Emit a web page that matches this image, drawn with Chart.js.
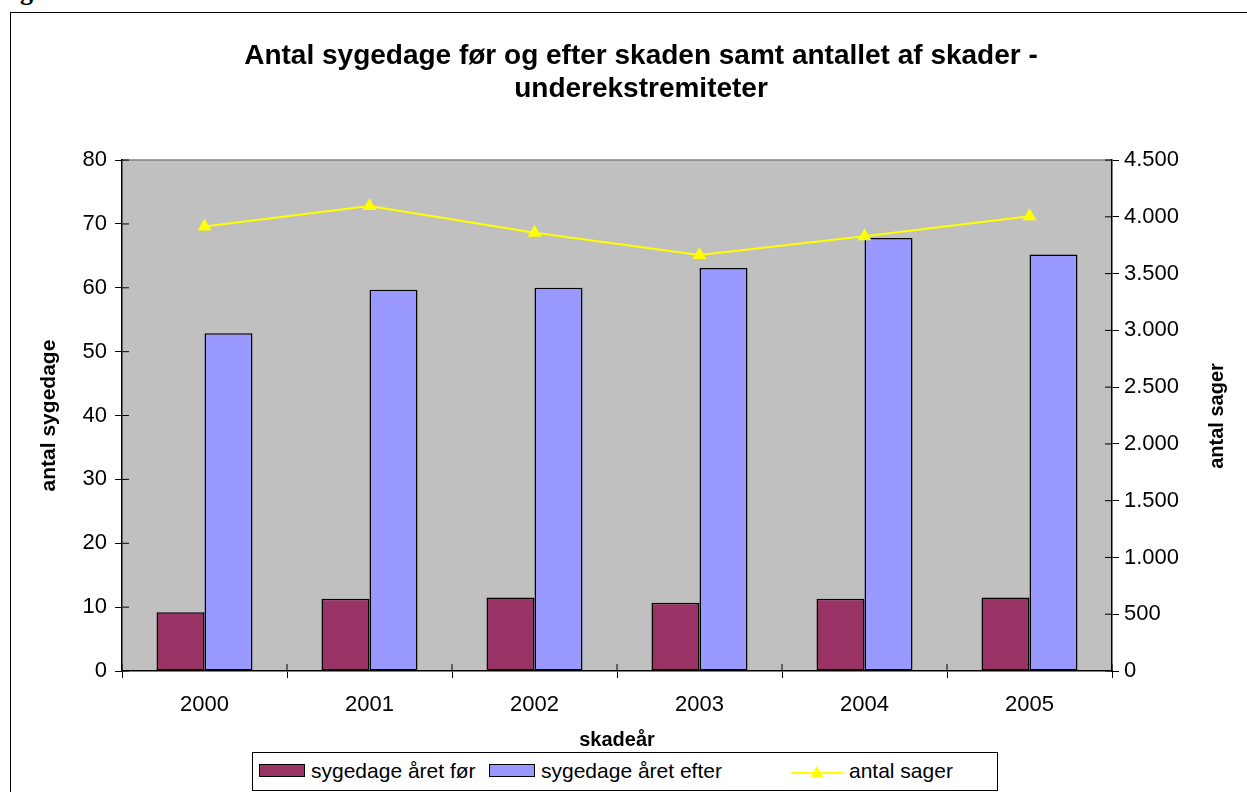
<!DOCTYPE html>
<html>
<head>
<meta charset="utf-8">
<script src="https://cdn.jsdelivr.net/npm/chart.js@4"></script>
<style>
html, body { margin: 0; padding: 0; background: #fff; overflow: hidden; width: 1247px; height: 792px; }
#frame { position: absolute; left: 10px; top: 12px; width: 1300px; height: 900px; border: 1.5px solid #000; }
#cap { position: absolute; left: -3px; top: -23px; font: bold 26px "Liberation Serif", serif; line-height: 30px; }
#wrap { position: absolute; left: 0; top: 0; width: 1247px; height: 792px; }
#legend { position: absolute; left: 252px; top: 752px; width: 744px; height: 37px; border: 1px solid #000; background: #fff;
  font: 21px "Liberation Sans", Arial, sans-serif; color: #000; }
#legend .box { position: absolute; top: 11px; width: 44px; height: 11px; border: 1.5px solid #000; }
#legend .txt { position: absolute; top: 6px; line-height: 24px; white-space: nowrap; }
#legend svg { position: absolute; top: 8px; }
</style>
</head>
<body>
<div id="cap">Fig</div>
<div id="frame"></div>
<div id="wrap"><canvas id="chart" width="1247" height="792"></canvas></div>
<div id="legend">
  <span class="box" style="left:6px;background:#993366"></span>
  <span class="txt" style="left:58px">sygedage året før</span>
  <span class="box" style="left:236px;background:#9999FF"></span>
  <span class="txt" style="left:288px">sygedage året efter</span>
  <svg style="left:538px" width="52" height="22"><line x1="0" y1="12" x2="52" y2="12" stroke="#FFFF00" stroke-width="2"/><polygon points="26,5 32,16 20,16" fill="#FFFF00"/></svg>
  <span class="txt" style="left:596px">antal sager</span>
</div>
<script>
// data
const years = ['2000', '2001', '2002', '2003', '2004', '2005'];
const sygedageFoer = [9.2, 11.3, 11.5, 10.7, 11.3, 11.5];
const sygedageEfter = [52.9, 59.7, 60.0, 63.1, 67.8, 65.2];
const antalSager = [3915, 4095, 3860, 3665, 3830, 4005];
const leftMax = 80, leftStep = 10;
const rightMax = 4500, rightStep = 500;

const fontFamily = '"Liberation Sans", Arial, sans-serif';
Chart.defaults.font.family = fontFamily;
Chart.defaults.color = '#000';

function danish(v) {
    return String(v).replace(/\B(?=(\d{3})+(?!\d))/g, '.');
}

const plotDecor = {
    id: 'plotDecor',
    beforeDraw(chart) {
        const {ctx, chartArea: a} = chart;
        ctx.save();
        ctx.fillStyle = '#C0C0C0';
        ctx.fillRect(a.left, a.top, a.right - a.left, a.bottom - a.top);
        ctx.strokeStyle = '#808080';
        ctx.lineWidth = 1.5;
        ctx.beginPath();
        ctx.moveTo(a.left, a.top);
        ctx.lineTo(a.right, a.top);
        ctx.stroke();
        ctx.restore();
    },
    afterDraw(chart) {
        const {ctx, chartArea: a, scales} = chart;
        ctx.save();
        ctx.strokeStyle = '#000';
        ctx.lineWidth = 1;
        ctx.beginPath();
        // inner halves of the tick marks
        scales.y.ticks.forEach((t, i) => {
            const y = scales.y.getPixelForTick(i);
            ctx.moveTo(a.left, y); ctx.lineTo(a.left + 7, y);
        });
        scales.y1.ticks.forEach((t, i) => {
            const y = scales.y1.getPixelForTick(i);
            ctx.moveTo(a.right - 7, y); ctx.lineTo(a.right, y);
        });
        for (let i = 0; i <= years.length; i++) {
            const x = a.left + (a.right - a.left) * i / years.length;
            ctx.moveTo(x, a.bottom - 7); ctx.lineTo(x, a.bottom);
        }
        ctx.stroke();
        // right axis title reads bottom to top
        ctx.fillStyle = '#000';
        ctx.font = 'bold 20px ' + fontFamily;
        ctx.textAlign = 'center';
        ctx.textBaseline = 'middle';
        ctx.translate(1217, 416);
        ctx.rotate(-Math.PI / 2);
        ctx.fillText('antal sager', 0, 0);
        ctx.restore();
    }
};

new Chart(document.getElementById('chart'), {
    type: 'bar',
    data: {
        labels: years,
        datasets: [
            {
                label: 'sygedage året før',
                data: sygedageFoer,
                backgroundColor: '#993366',
                borderColor: '#000',
                borderWidth: 1.5,
                borderSkipped: false,
                yAxisID: 'y',
                order: 1
            },
            {
                label: 'sygedage året efter',
                data: sygedageEfter,
                backgroundColor: '#9999FF',
                borderColor: '#000',
                borderWidth: 1.5,
                borderSkipped: false,
                yAxisID: 'y',
                order: 1
            },
            {
                type: 'line',
                label: 'antal sager',
                data: antalSager,
                borderColor: '#FFFF00',
                borderWidth: 2,
                backgroundColor: '#FFFF00',
                pointStyle: 'triangle',
                pointRadius: 6,
                pointBackgroundColor: '#FFFF00',
                pointBorderColor: '#FFFF00',
                tension: 0,
                yAxisID: 'y1',
                order: 0
            }
        ]
    },
    options: {
        responsive: false,
        animation: false,
        devicePixelRatio: 1,
        layout: {
            padding: {left: 35, right: 0, top: 0, bottom: 40}
        },
        datasets: {
            bar: {categoryPercentage: 0.582, barPercentage: 1}
        },
        scales: {
            x: {
                grid: {display: true, drawOnChartArea: false, offset: true, tickLength: 7, color: '#000'},
                border: {color: '#000', width: 1.5},
                ticks: {font: {size: 22}, padding: 14, maxRotation: 0},
                title: {display: true, text: 'skadeår', font: {size: 20, weight: 'bold'}, padding: 0},
                afterFit(scale) { scale.height = 81; }
            },
            y: {
                position: 'left',
                min: 0,
                max: leftMax,
                grid: {drawOnChartArea: false, tickLength: 7, color: '#000'},
                border: {color: '#000', width: 1.5},
                ticks: {stepSize: leftStep, font: {size: 22}, padding: 8},
                title: {display: true, text: 'antal sygedage', font: {size: 21, weight: 'bold'}, padding: {top: 2, bottom: 0}},
                afterFit(scale) { scale.width = 87; }
            },
            y1: {
                position: 'right',
                min: 0,
                max: rightMax,
                grid: {drawOnChartArea: false, tickLength: 7, color: '#000'},
                border: {color: '#000', width: 1.5},
                ticks: {stepSize: rightStep, font: {size: 22}, padding: 5, callback: v => danish(v)},
                afterFit(scale) { scale.width = 135; }
            }
        },
        plugins: {
            title: {
                display: true,
                text: ['Antal sygedage før og efter skaden samt antallet af skader -', 'underekstremiteter'],
                font: {size: 28, weight: 'bold', lineHeight: 1.18},
                color: '#000',
                padding: {top: 40, bottom: 54}
            },
            legend: {display: false},
            tooltip: {enabled: false}
        }
    },
    plugins: [plotDecor]
});
</script>
</body>
</html>
